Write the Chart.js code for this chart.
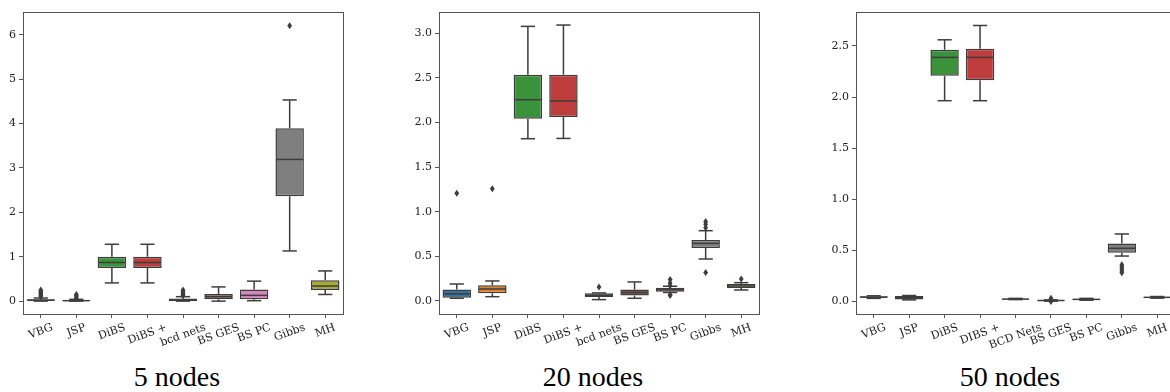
<!DOCTYPE html>
<html lang="en">
<head>
    <meta charset="UTF-8">
    <title>Box plots - 5 / 20 / 50 nodes</title>
    <script src="https://cdn.jsdelivr.net/npm/chart.js"></script>
    <style>
        body {
            margin: 0;
            width: 1170px;
            height: 392px;
            overflow: hidden;
            position: relative;
            background: #fff;
        }
        .panel { position: absolute; top: 0; }
        .caption {
            position: absolute;
            top: 363px;
            width: 200px;
            text-align: center;
            font-family: 'Liberation Serif', serif;
            font-size: 28px;
            line-height: 28px;
            color: #000;
        }
    </style>
</head>
<body>
    <canvas id="chart5" class="panel" style="left:0px" width="350" height="360"></canvas>
    <canvas id="chart20" class="panel" style="left:400px" width="366" height="360"></canvas>
    <canvas id="chart50" class="panel" style="left:815px" width="370" height="360"></canvas>
    <div class="caption" style="left:77px">5 nodes</div>
    <div class="caption" style="left:493px">20 nodes</div>
    <div class="caption" style="left:910px">50 nodes</div>

    <script>
        // categories
        const methods = ['VBG', 'JSP', 'DiBS', 'DiBS +', 'bcd nets', 'BS GES', 'BS PC', 'Gibbs', 'MH'];
        const methods50 = ['VBG', 'JSP', 'DiBS', 'DIBS +', 'BCD Nets', 'BS GES', 'BS PC', 'Gibbs', 'MH'];
        const boxColors = ['#3274a1', '#e1812c', '#3a923a', '#c03d3e', '#9372b2', '#845b53', '#d684bd', '#7f7f7f', '#a9aa35'];

        // 5 nodes
        const low5 = [0, 0, 0.41, 0.41, 0, 0, 0.01, 1.13, 0.15];
        const q1_5 = [0.01, 0.005, 0.745, 0.745, 0.005, 0.04, 0.04, 2.36, 0.25];
        const med5 = [0.02, 0.01, 0.87, 0.87, 0.03, 0.1, 0.13, 3.19, 0.34];
        const q3_5 = [0.04, 0.02, 1.0, 1.0, 0.06, 0.16, 0.26, 3.89, 0.47];
        const high5 = [0.07, 0.04, 1.28, 1.28, 0.1, 0.32, 0.45, 4.53, 0.68];
        const out5 = [[0.1, 0.13, 0.16, 0.19, 0.22, 0.25], [0.06, 0.09, 0.12, 0.15], [], [], [0.12, 0.15, 0.18, 0.21, 0.25], [], [], [6.2], []];
        const ticks5 = ['0', '1', '2', '3', '4', '5', '6'];

        // 20 nodes
        const low20 = [0.03, 0.048, 1.817, 1.82, 0.015, 0.03, 0.095, 0.47, 0.123];
        const q1_20 = [0.037, 0.085, 2.04, 2.06, 0.045, 0.06, 0.104, 0.593, 0.146];
        const med20 = [0.08, 0.134, 2.254, 2.24, 0.063, 0.095, 0.125, 0.645, 0.168];
        const q3_20 = [0.127, 0.175, 2.534, 2.534, 0.085, 0.127, 0.149, 0.683, 0.19];
        const high20 = [0.19, 0.224, 3.075, 3.09, 0.09, 0.213, 0.165, 0.787, 0.205];
        const out20 = [[1.205], [1.257], [], [], [0.157], [], [0.06, 0.07, 0.17, 0.2, 0.24], [0.32, 0.82, 0.86, 0.89], [0.246]];
        const ticks20 = ['0.0', '0.5', '1.0', '1.5', '2.0', '2.5', '3.0'];

        // 50 nodes
        const low50 = [0.03, 0.015, 1.964, 1.964, 0.018, 0.003, 0.012, 0.444, 0.032];
        const q1_50 = [0.035, 0.02, 2.208, 2.163, 0.02, 0.006, 0.015, 0.477, 0.035];
        const med50 = [0.042, 0.038, 2.388, 2.388, 0.023, 0.009, 0.02, 0.52, 0.04];
        const q3_50 = [0.05, 0.054, 2.463, 2.473, 0.027, 0.012, 0.026, 0.567, 0.044];
        const high50 = [0.055, 0.058, 2.56, 2.70, 0.03, 0.015, 0.03, 0.66, 0.048];
        const out50 = [[], [], [], [], [], [0.0, 0.02, 0.03], [], [0.28, 0.3, 0.32, 0.34, 0.36], []];
        const ticks50 = ['0.0', '0.5', '1.0', '1.5', '2.0', '2.5'];

        const edge = '#3d3d3d';
        const tickFont = { family: 'DejaVu Serif', size: 11 };

        // whiskers, medians, outliers and the frame, all through the chart scales
        const boxExtras = {
            id: 'boxExtras',
            afterDatasetsDraw(chart, args, opts) {
                const ctx = chart.ctx;
                const xs = chart.scales.x, ys = chart.scales.y;
                const bars = chart.getDatasetMeta(0).data;
                ctx.save();
                ctx.strokeStyle = edge;
                ctx.lineWidth = 1.5;
                opts.med.forEach((m, i) => {
                    const x = xs.getPixelForValue(i);
                    const hw = bars[i].width / 2;
                    const line = (x1, y1, x2, y2) => {
                        ctx.beginPath(); ctx.moveTo(x1, y1); ctx.lineTo(x2, y2); ctx.stroke();
                    };
                    line(x, ys.getPixelForValue(opts.q3[i]), x, ys.getPixelForValue(opts.high[i]));
                    line(x, ys.getPixelForValue(opts.q1[i]), x, ys.getPixelForValue(opts.low[i]));
                    line(x - hw / 2, ys.getPixelForValue(opts.high[i]), x + hw / 2, ys.getPixelForValue(opts.high[i]));
                    line(x - hw / 2, ys.getPixelForValue(opts.low[i]), x + hw / 2, ys.getPixelForValue(opts.low[i]));
                    line(x - hw + 0.75, ys.getPixelForValue(m), x + hw - 0.75, ys.getPixelForValue(m));
                    ctx.fillStyle = edge;
                    opts.out[i].forEach(v => {
                        const y = ys.getPixelForValue(v);
                        ctx.beginPath();
                        ctx.moveTo(x, y - 3.5); ctx.lineTo(x + 2.4, y);
                        ctx.lineTo(x, y + 3.5); ctx.lineTo(x - 2.4, y);
                        ctx.closePath(); ctx.fill();
                    });
                });
                ctx.restore();
            },
            afterDraw(chart, args, opts) {
                const ctx = chart.ctx;
                const a = chart.chartArea;
                ctx.save();
                ctx.strokeStyle = '#555';
                ctx.lineWidth = 1;
                ctx.strokeRect(Math.round(a.left) + 0.5, Math.round(a.top) + 0.5,
                    Math.round(a.right - a.left), Math.round(a.bottom - a.top));
                // rotated x labels centred under the ticks
                const xs = chart.scales.x;
                const ang = 20 * Math.PI / 180;
                ctx.font = '11px "DejaVu Serif"';
                ctx.fillStyle = '#222';
                ctx.textAlign = 'center';
                ctx.textBaseline = 'middle';
                opts.labels.forEach((t, i) => {
                    const w = ctx.measureText(t).width;
                    const h = 11;
                    const bh = w * Math.sin(ang) + h * Math.cos(ang);
                    const x = xs.getPixelForValue(i);
                    const y = a.bottom + 8 + bh / 2;
                    ctx.save();
                    ctx.translate(x, y);
                    ctx.rotate(-ang);
                    ctx.fillText(t, 0, 0);
                    ctx.restore();
                });
                ctx.restore();
            }
        };

        function makeBoxChart(id, labels, low, q1, med, q3, high, out, tickLabels, yMin, yMax, yWidth, rightPad) {
            const tickVals = tickLabels.map(Number);
            new Chart(document.getElementById(id), {
                type: 'bar',
                data: {
                    labels: labels,
                    datasets: [{
                        data: q1.map((v, i) => [v, q3[i]]),
                        backgroundColor: boxColors,
                        borderColor: edge,
                        borderWidth: 1.5,
                        borderSkipped: false,
                        barPercentage: 0.8,
                        categoryPercentage: 1.0
                    }]
                },
                plugins: [boxExtras],
                options: {
                    responsive: false,
                    animation: false,
                    layout: { padding: { top: 12, right: rightPad, left: 0, bottom: 0 } },
                    plugins: {
                        legend: { display: false },
                        tooltip: { enabled: false },
                        boxExtras: { low, q1, med, q3, high, out, labels }
                    },
                    scales: {
                        x: {
                            offset: true,
                            grid: { offset: false, drawOnChartArea: false, drawTicks: true, tickLength: 4, color: '#555' },
                            border: { display: false },
                            ticks: { display: false },
                            afterFit: s => { s.height = 46; }
                        },
                        y: {
                            min: yMin,
                            max: yMax,
                            grid: { drawOnChartArea: false, drawTicks: true, tickLength: 4, color: '#555' },
                            border: { display: false },
                            afterBuildTicks: s => { s.ticks = tickVals.map(v => ({ value: v })); },
                            ticks: {
                                font: tickFont,
                                color: '#222',
                                padding: 3,
                                callback: (v, i) => tickLabels[i]
                            },
                            afterFit: s => { s.width = yWidth; }
                        }
                    }
                }
            });
        }

        makeBoxChart('chart5', methods, low5, q1_5, med5, q3_5, high5, out5, ticks5, -0.29, 6.51, 23, 7);
        makeBoxChart('chart20', methods, low20, q1_20, med20, q3_20, high20, out20, ticks20, -0.146, 3.236, 39, 7);
        makeBoxChart('chart50', methods50, low50, q1_50, med50, q3_50, high50, out50, ticks50, -0.123, 2.832, 41, 10);
    </script>
</body>
</html>
